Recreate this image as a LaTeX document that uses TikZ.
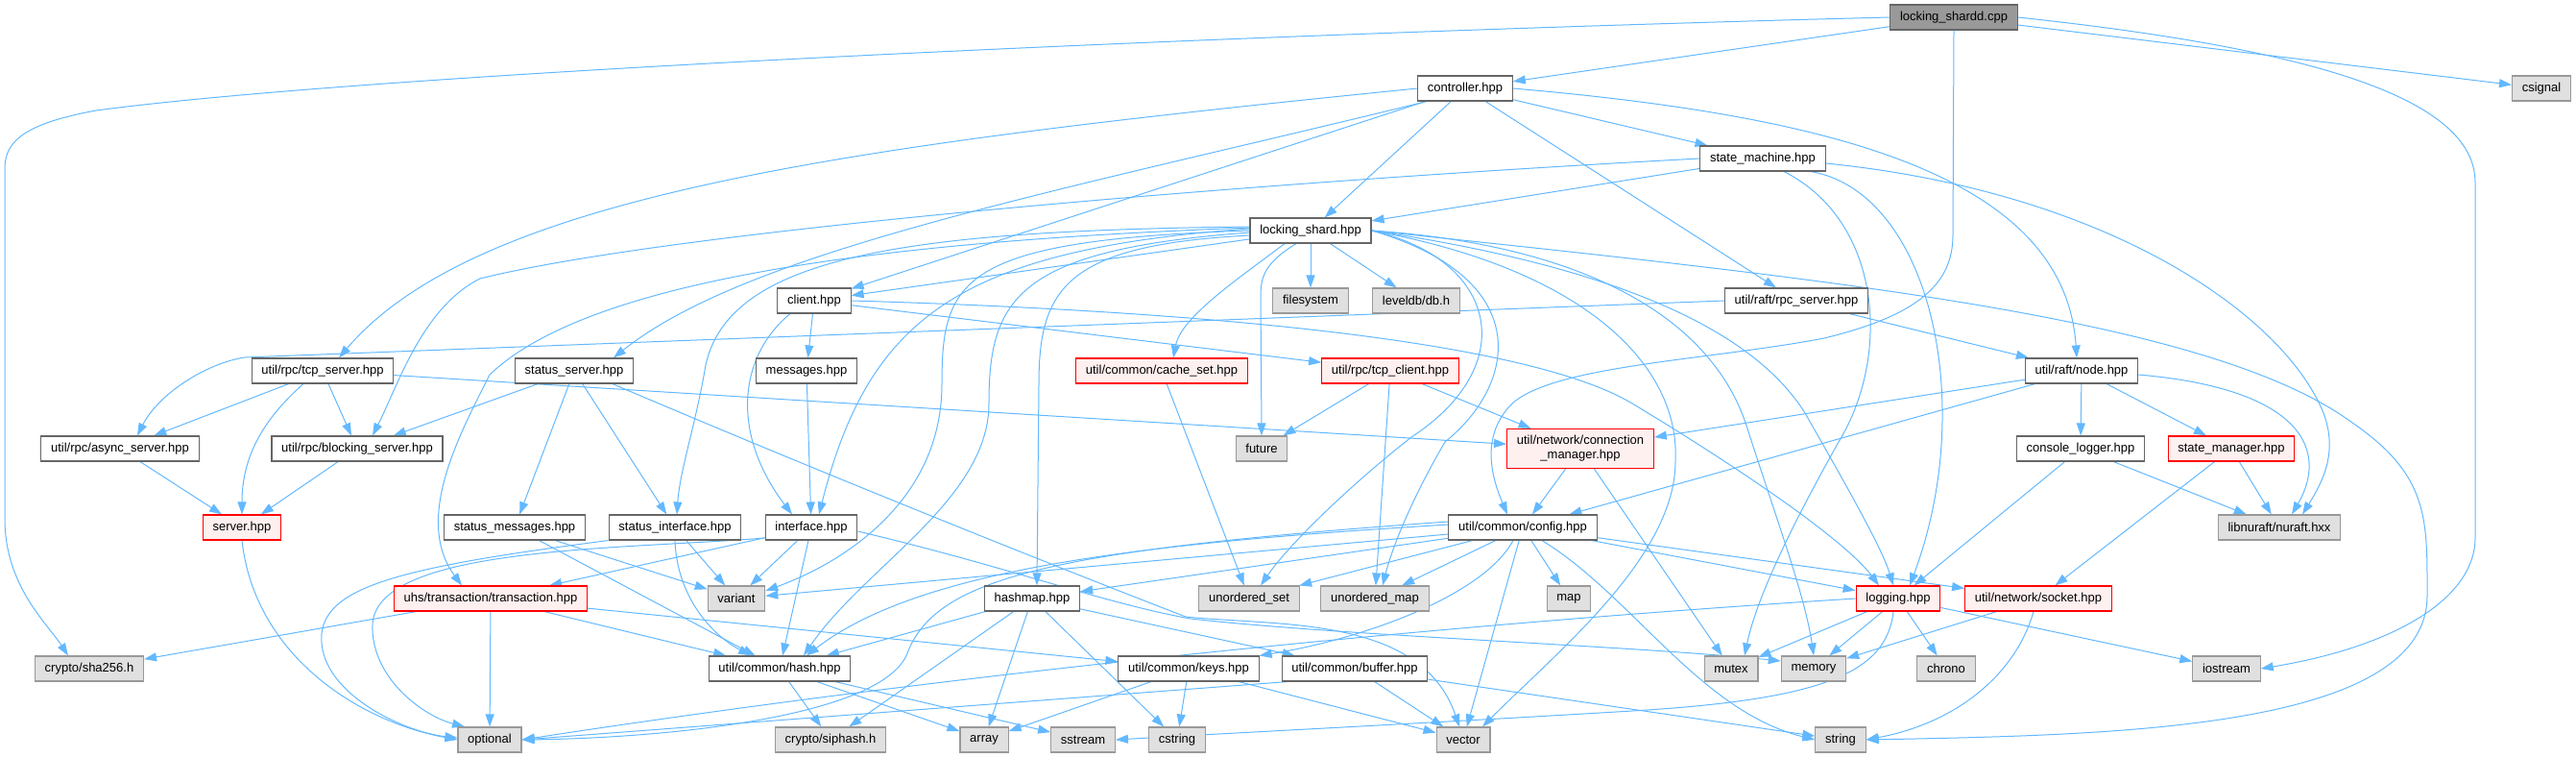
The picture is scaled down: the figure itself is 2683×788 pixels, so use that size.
\documentclass[tikz,border=0pt]{standalone}
\usepackage{fontspec}
\setmainfont{Liberation Sans}
\usetikzlibrary{arrows.meta}
\pgfdeclarelayer{bg}
\pgfsetlayers{bg,main}
\definecolor{edgeblue}{HTML}{63B8FF}
\definecolor{boxgray}{HTML}{666666}
\definecolor{sysfill}{HTML}{E0E0E0}
\definecolor{sysdraw}{HTML}{999999}
\definecolor{redfill}{HTML}{FFF0F0}
\definecolor{rootfill}{HTML}{999999}
\tikzset{
 nbase/.style={draw, line width=1.1pt, minimum height=26pt, inner xsep=10.25pt, inner ysep=0pt, font=\fontsize{13}{15}\selectfont, text=black},
 wbox/.style={nbase, draw=boxgray, fill=white},
 sbox/.style={nbase, draw=sysdraw, fill=sysfill},
 rbox/.style={nbase, draw=red, fill=redfill},
 rootbox/.style={nbase, draw=boxgray, fill=rootfill},
 dep/.style={draw=edgeblue, line width=1pt, -{Triangle[length=13pt,width=9pt]}},
}
\begin{document}
\begin{tikzpicture}[x=1pt,y=-1pt]
\useasboundingbox (0,0) rectangle (2683,788);
% ---------------- nodes
\node[rootbox] (shardd) at (2035,18) {locking\_shardd.cpp};
\node[wbox] (controller) at (1526,92) {controller.hpp};
\node[sbox] (csignal) at (2647,92) {csignal};
\node[wbox] (statemachine) at (1836,165) {state\_machine.hpp};
\node[wbox] (lshard) at (1365,240) {locking\_shard.hpp};
\node[wbox] (client) at (848,313) {client.hpp};
\node[sbox] (filesystem) at (1365,313) {filesystem};
\node[sbox] (leveldb) at (1475,313) {leveldb/db.h};
\node[wbox] (rpcserver) at (1871,313) {util/raft/rpc\_server.hpp};
\node[wbox] (tcpserver) at (336,386) {util/rpc/tcp\_server.hpp};
\node[wbox] (statusserver) at (598,386) {status\_server.hpp};
\node[wbox] (messages) at (840,386) {messages.hpp};
\node[rbox] (cacheset) at (1210,386) {util/common/cache\_set.hpp};
\node[rbox] (tcpclient) at (1448,386) {util/rpc/tcp\_client.hpp};
\node[wbox] (raftnode) at (2168,386) {util/raft/node.hpp};
\node[wbox] (asyncserver) at (125,467) {util/rpc/async\_server.hpp};
\node[wbox] (blockingserver) at (372,467) {util/rpc/blocking\_server.hpp};
\node[sbox] (future) at (1314,467) {future};
\node[rbox, minimum height=41pt, align=center] (connmgr) at (1646,467) {util/network/connection\\\_manager.hpp};
\node[wbox] (consolelogger) at (2167,467) {console\_logger.hpp};
\node[rbox] (statemanager) at (2324,467) {state\_manager.hpp};
\node[rbox] (server) at (252,549) {server.hpp};
\node[wbox] (statusmessages) at (536,549) {status\_messages.hpp};
\node[wbox] (statusinterface) at (703,549) {status\_interface.hpp};
\node[wbox] (interface) at (845,549) {interface.hpp};
\node[wbox] (config) at (1586,549) {util/common/config.hpp};
\node[sbox] (nuraft) at (2374,549) {libnuraft/nuraft.hxx};
\node[rbox] (transaction) at (511,623) {uhs/transaction/transaction.hpp};
\node[sbox] (variant) at (767,623) {variant};
\node[wbox] (hashmap) at (1075,623) {hashmap.hpp};
\node[sbox] (unorderedset) at (1301,623) {unordered\_set};
\node[sbox] (unorderedmap) at (1432,623) {unordered\_map};
\node[sbox] (map) at (1634,623) {map};
\node[rbox] (logging) at (1977,623) {logging.hpp};
\node[rbox] (socket) at (2123,623) {util/network/socket.hpp};
\node[sbox] (sha256) at (93,696) {crypto/sha256.h};
\node[wbox] (hash) at (812,696) {util/common/hash.hpp};
\node[wbox] (keys) at (1238,696) {util/common/keys.hpp};
\node[wbox] (buffer) at (1411,696) {util/common/buffer.hpp};
\node[sbox] (mutex) at (1803,696) {mutex};
\node[sbox] (memory) at (1889,696) {memory};
\node[sbox] (chrono) at (2027,696) {chrono};
\node[sbox] (iostream) at (2319,696) {iostream};
\node[sbox] (optional) at (510,770) {optional};
\node[sbox] (siphash) at (865,770) {crypto/siphash.h};
\node[sbox] (array) at (1025,770) {array};
\node[sbox] (sstream) at (1128,770) {sstream};
\node[sbox] (cstring) at (1226,770) {cstring};
\node[sbox] (vector) at (1524,770) {vector};
\node[sbox] (string) at (1917,770) {string};
% ---------------- edges
\begin{pgfonlayer}{bg}
% locking_shardd.cpp
\draw[dep] (shardd) -- (controller);
\draw[dep] (shardd) -- (csignal);
\draw[dep] (shardd.west) .. controls (1300,35) and (400,75) .. (100,115) .. controls (30,128) and (5,145) .. (5,175) -- (5,540) .. controls (5,610) and (50,650) .. ([xshift=-22pt]sha256.north);
\draw[dep] (shardd.south) -- (2034,245) .. controls (2034,300) and (1990,330) .. (1900,352) .. controls (1780,375) and (1620,380) .. (1575,420) .. controls (1540,455) and (1555,500) .. ([xshift=-16pt]config.north);
\draw[dep] (shardd.east) .. controls (2400,50) and (2578,100) .. (2578,190) -- (2578,560) .. controls (2578,620) and (2500,672) .. (iostream.east);
% controller.hpp
\draw[dep] (controller) -- (lshard);
\draw[dep] (controller) -- (statemachine);
\draw[dep] (controller) -- (rpcserver);
\draw[dep] (controller.east) .. controls (1900,120) and (2150,180) .. ([xshift=-5pt]raftnode.north);
\draw[dep] (controller.west) .. controls (900,150) and (500,200) .. ([xshift=17pt]tcpserver.north);
\draw[dep] (controller) -- (client);
\draw[dep] ([xshift=-40pt]controller.south) .. controls (1100,200) and (780,260) .. ([xshift=41pt]statusserver.north);
% state_machine.hpp
\draw[dep] (statemachine) -- (lshard);
\draw[dep] (statemachine.west) .. controls (1300,190) and (700,240) .. (500,290) .. controls (440,320) and (415,400) .. ([xshift=16pt]blockingserver.north);
\draw[dep] ([yshift=-5pt]statemachine.east) .. controls (2200,200) and (2380,330) .. (2420,430) .. controls (2435,470) and (2420,500) .. ([xshift=24pt]nuraft.north);
\draw[dep] ([xshift=50pt]statemachine.south) .. controls (2010,200) and (2060,420) .. ([xshift=12pt]logging.north);
\draw[dep] ([xshift=22pt]statemachine.south) .. controls (1960,230) and (1970,370) .. (1915,460) .. controls (1870,540) and (1830,620) .. ([xshift=14pt]mutex.north);
% locking_shard.hpp
\draw[dep] (lshard) -- (client);
\draw[dep] (lshard) -- (filesystem);
\draw[dep] (lshard) -- (leveldb);
\draw[dep] ([xshift=-27pt]lshard.south) .. controls (1290,290) and (1230,330) .. ([xshift=12pt]cacheset.north);
\draw[dep] ([xshift=-15pt]lshard.south) .. controls (1315,275) and (1313,290) .. (1313,310) -- (future.north);
\draw[dep] ([yshift=4pt]lshard.west) .. controls (950,240) and (760,265) .. (735,380) .. controls (725,440) and (708,490) .. ([xshift=2pt]statusinterface.north);
\draw[dep] ([yshift=2pt]lshard.west) .. controls (1000,260) and (905,330) .. ([xshift=8pt]interface.north);
\draw[dep] (lshard.west) .. controls (1000,250) and (981,290) .. (981,400) .. controls (981,520) and (880,585) .. ([yshift=8pt]variant.east);
\draw[dep] ([yshift=-2pt]lshard.west) .. controls (1060,260) and (1030,310) .. (1030,420) .. controls (1030,520) and (900,590) .. ([xshift=25pt]hash.north);
\draw[dep] ([yshift=-5pt]lshard.west) .. controls (1110,255) and (1082,300) .. (1082,400) -- ([xshift=5pt]hashmap.north);
\draw[dep] ([yshift=3pt]lshard.west) .. controls (950,250) and (620,285) .. (510,390) .. controls (480,450) and (430,540) .. ([xshift=-30pt]transaction.north);
\draw[dep] (lshard.east) .. controls (1560,270) and (1585,380) .. (1470,455) .. controls (1400,510) and (1340,570) .. ([xshift=12pt]unorderedset.north);
\draw[dep] (lshard.east) .. controls (1600,290) and (1580,400) .. (1505,460) .. controls (1470,520) and (1450,570) .. ([xshift=8pt]unorderedmap.north);
\draw[dep] (lshard.east) .. controls (1650,255) and (1780,330) .. (1818,440) .. controls (1850,540) and (1880,620) .. (memory.north);
\draw[dep] (lshard.east) .. controls (1700,280) and (1830,350) .. (1880,430) .. controls (1920,500) and (1960,570) .. ([xshift=-5pt]logging.north);
\draw[dep] (lshard.east) .. controls (1650,280) and (1750,380) .. (1745,480) .. controls (1745,580) and (1620,680) .. ([xshift=20pt]vector.north);
\draw[dep] (lshard.east) .. controls (1900,290) and (2300,330) .. (2450,440) .. controls (2530,495) and (2528,540) .. (2528,620) .. controls (2528,760) and (2200,765) .. (string.east);
% client.hpp
\draw[dep] (client) -- (messages);
\draw[dep] ([xshift=-25pt]client.south) .. controls (770,370) and (760,450) .. ([xshift=-20pt]interface.north);
\draw[dep] (client) -- (tcpclient);
\draw[dep] (client.east) .. controls (1300,325) and (1600,360) .. (1700,420) .. controls (1800,480) and (1920,560) .. ([xshift=-20pt]logging.north);
% util/rpc/tcp_server.hpp
\draw[dep] (tcpserver) -- (asyncserver);
\draw[dep] (tcpserver) -- (blockingserver);
\draw[dep] ([xshift=-20pt]tcpserver.south) .. controls (270,440) and (252,480) .. (server.north);
\draw[dep] (tcpserver) -- (connmgr);
% status_server.hpp
\draw[dep] (statusserver) -- (blockingserver);
\draw[dep] (statusserver) -- (statusmessages);
\draw[dep] (statusserver) -- (statusinterface);
\draw[dep] ([xshift=40pt]statusserver.south) .. controls (850,490) and (1100,590) .. (1235,642) .. controls (1330,652) and (1480,640) .. ([xshift=-4pt]vector.north);
% misc
\draw[dep] (messages) -- (interface);
\draw[dep] (cacheset) -- (unorderedset);
\draw[dep] (tcpclient) -- (future);
\draw[dep] (tcpclient) -- (unorderedmap);
\draw[dep] (tcpclient) -- (connmgr);
% util/raft/node.hpp
\draw[dep] (raftnode) -- (connmgr);
\draw[dep] (raftnode) -- (config);
\draw[dep] (raftnode) -- (consolelogger);
\draw[dep] (raftnode) -- (statemanager);
\draw[dep] ([yshift=-4pt]raftnode.east) .. controls (2400,405) and (2425,470) .. ([xshift=13pt]nuraft.north);
% util/raft/rpc_server.hpp
\draw[dep] (rpcserver.west) -- (255,372) .. controls (215,378) and (165,410) .. ([xshift=18pt]asyncserver.north);
\draw[dep] (rpcserver) -- (raftnode);
% servers
\draw[dep] (asyncserver) -- (server);
\draw[dep] (blockingserver) -- (server);
\draw[dep] (server.south) .. controls (265,680) and (370,750) .. (optional.west);
% connection manager
\draw[dep] (connmgr) -- (config);
\draw[dep] (connmgr) -- (mutex);
% console logger, state manager
\draw[dep] (consolelogger) -- (logging);
\draw[dep] (consolelogger) -- (nuraft);
\draw[dep] (statemanager) -- (nuraft);
\draw[dep] (statemanager) -- (socket);
% status_messages, status_interface
\draw[dep] (statusmessages) -- (variant);
\draw[dep] (statusmessages) -- (hash);
\draw[dep] (statusinterface) -- (variant);
\draw[dep] (statusinterface.south) .. controls (705,620) and (740,660) .. ([xshift=-30pt]hash.north);
\draw[dep] (statusinterface.south west) .. controls (420,590) and (340,610) .. (335,660) .. controls (330,720) and (420,762) .. ([yshift=2pt]optional.west);
% interface.hpp
\draw[dep] (interface) -- (transaction);
\draw[dep] ([yshift=-11pt]interface.west) .. controls (650,572) and (392,568) .. (388,650) .. controls (386,705) and (440,745) .. ([xshift=-26pt]optional.north);
\draw[dep] (interface) -- (variant);
\draw[dep] (interface) -- (hash);
\draw[dep] ([yshift=-4pt]interface.east) .. controls (1050,590) and (1150,628) .. (1240,644) .. controls (1400,662) and (1700,672) .. ([yshift=8pt]memory.west);
% transaction.hpp
\draw[dep] (transaction) -- (sha256);
\draw[dep] (transaction) -- (optional);
\draw[dep] (transaction) -- (keys);
\draw[dep] (transaction) -- (hash);
% hashmap.hpp
\draw[dep] (hashmap) -- (hash);
\draw[dep] (hashmap) -- (siphash);
\draw[dep] (hashmap) -- (array);
\draw[dep] (hashmap) -- (cstring);
\draw[dep] (hashmap) -- (buffer);
% hash.hpp
\draw[dep] (hash) -- (siphash);
\draw[dep] (hash) -- (array);
\draw[dep] (hash) -- (sstream);
% keys.hpp
\draw[dep] (keys) -- (array);
\draw[dep] (keys) -- (cstring);
\draw[dep] (keys) -- (vector);
% buffer.hpp
\draw[dep] (buffer) -- (vector);
\draw[dep] (buffer) -- (string);
\draw[dep] ([xshift=-70pt]buffer.south) -- (optional.east);
% config.hpp
\draw[dep] (config) -- (variant);
\draw[dep] ([yshift=3pt]config.west) .. controls (1200,565) and (960,590) .. ([xshift=28pt]hash.north);
\draw[dep] (config) -- (hashmap);
\draw[dep] ([yshift=6pt]config.west) .. controls (1100,572) and (975,600) .. (945,680) .. controls (920,745) and (700,768) .. (optional.east);
\draw[dep] ([xshift=-10pt]config.south) .. controls (1545,620) and (1420,665) .. (keys.north east);
\draw[dep] (config) -- (unorderedset);
\draw[dep] (config) -- (unorderedmap);
\draw[dep] (config) -- (map);
\draw[dep] (config) -- (logging);
\draw[dep] (config) -- (socket);
\draw[dep] (config) -- (vector);
\draw[dep] ([xshift=20pt]config.south) .. controls (1700,620) and (1770,740) .. (string.west);
% logging.hpp
\draw[dep] (logging) -- (mutex);
\draw[dep] (logging) -- (memory);
\draw[dep] (logging) -- (chrono);
\draw[dep] (logging) -- (iostream);
\draw[dep] ([xshift=-5pt]logging.south) .. controls (1965,700) and (1900,728) .. (1700,740) .. controls (1500,752) and (1300,762) .. (sstream.east);
\draw[dep] (logging.west) .. controls (1500,650) and (1000,700) .. (optional.east);
% socket.hpp
\draw[dep] (socket) -- (memory);
\draw[dep] ([xshift=-5pt]socket.south) .. controls (2100,700) and (2040,752) .. (string.east);
\end{pgfonlayer}
\end{tikzpicture}
\end{document}
